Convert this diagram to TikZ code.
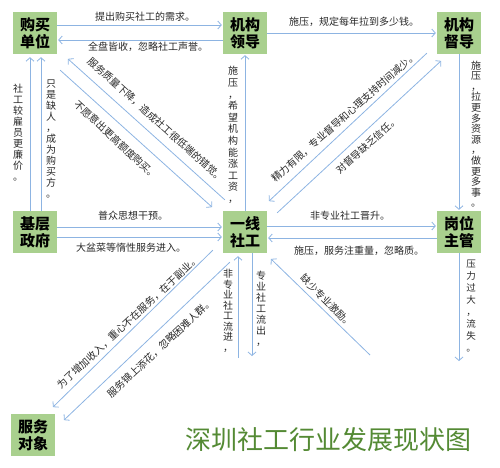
\documentclass[tikz,border=0pt]{standalone}
\usepackage{fontspec}
\setmainfont{Noto Sans CJK SC}
\usetikzlibrary{arrows.meta}
\definecolor{boxg}{RGB}{169,208,142}
\definecolor{lineb}{RGB}{141,180,226}
\definecolor{txt}{RGB}{40,40,40}
\definecolor{titleg}{RGB}{84,138,52}
\begin{document}
\begin{tikzpicture}[x=1pt,y=-1pt,
  box/.style={fill=boxg, minimum width=44pt, minimum height=42pt, inner sep=0pt, align=center,
    font=\fontsize{15}{17}\selectfont\bfseries},
  arr/.style={draw=lineb, line width=0.8pt, -{Straight Barb[length=3.5pt,width=8pt]}, shorten >=1pt},
  lab/.style={font=\fontsize{10}{12}\selectfont, text=txt, inner sep=0pt},
  vlab/.style={text=txt, inner sep=0pt, align=center, font=\fontsize{10}{11}\selectfont}]
\useasboundingbox (0,0) rectangle (500,467);
% nodes
\node[box] (buy) at (35,33) {购买\\单位};
\node[box] (lead) at (245,33) {机构\\领导};
\node[box] (sup) at (459,33) {机构\\督导};
\node[box] (gov) at (35,232) {基层\\政府};
\node[box] (sw) at (245,232) {一线\\社工};
\node[box] (mgr) at (459,232) {岗位\\主管};
\node[box] (cli) at (33,435) {服务\\对象};
\node[font=\fontsize{26}{28}\selectfont, text=titleg, inner sep=0pt] (title) at (328,440) {深圳社工行业发展现状图};
\coordinate (mgrend) at (459,362);
\coordinate (inflow) at (238,358);
\coordinate (outflow) at (252,357);
\coordinate (incent) at (370,355);
% horizontal
\draw[arr] ([yshift=8pt]buy.east) -- ([yshift=8pt]lead.west);
\draw[arr] ([yshift=-7pt]lead.west) -- ([yshift=-7pt]buy.east);
\draw[arr] (lead.east) -- (sup.west);
\draw[arr] ([yshift=5pt]gov.east) -- ([yshift=5pt]sw.west);
\draw[arr] ([yshift=-5pt]gov.east) -- ([yshift=-5pt]sw.west);
\draw[arr] ([yshift=6pt]sw.east) -- ([yshift=6pt]mgr.west);
\draw[arr] ([yshift=-6pt]mgr.west) -- ([yshift=-6pt]sw.east);
% vertical
\draw[arr] (sup.south) -- (mgr.north);
\draw[arr] (mgr.south) -- (mgrend);
\draw[arr] (sw.north) -- (lead.south);
\draw[arr, shorten >=3pt] ([xshift=-5pt]gov.north) -- ([xshift=-5pt]buy.south);
\draw[arr, shorten >=3pt] ([xshift=6pt]gov.north) -- ([xshift=6pt]buy.south);
\draw[arr, shorten >=3pt] (inflow) -- ([xshift=-7pt]sw.south);
\draw[arr] ([xshift=7pt]sw.south) -- (outflow);
% diagonals
\draw[arr] ([shift={(2,-11)}]sw.north west) -- ([shift={(10,4)}]buy.south east);
\draw[arr] ([shift={(3,16)}]buy.south east) -- ([shift={(-10,-3)}]sw.north west);
\draw[arr] ([shift={(-10,-1)}]sup.south west) -- ([shift={(1,-9)}]sw.north east);
\draw[arr] ([shift={(10,2)}]sw.north east) -- ([shift={(5,6)}]sup.south west);
\draw[arr] ([shift={(-10,-3)}]sw.south west) -- ([shift={(-3,-6)}]cli.north east);
\draw[arr] ([shift={(7,9)}]sw.south west) -- ([shift={(8,7)}]cli.north east);
\draw[arr] (incent) -- ([shift={(3,5)}]sw.south east);
% horizontal labels
\node[lab] (l1) at (145,17) {提出购买社工的需求。};
\node[lab] (l2) at (148,47) {全盘皆收，忽略社工声誉。};
\node[lab] (l3) at (354,22) {施压，规定每年拉到多少钱。};
\node[lab] (l4) at (350,216) {非专业社工晋升。};
\node[lab] (l5) at (359,251) {施压，服务注重量，忽略质。};
\node[lab] (l6) at (133,216) {普众思想干预。};
\node[lab] (l7) at (131,248) {大盆菜等惰性服务进入。};
% vertical labels
\node[vlab, font=\fontsize{10}{10.6}\selectfont] (v1) at (476,134) {施\\压\\，\\拉\\更\\多\\资\\源\\，\\做\\更\\多\\事\\。};
\node[vlab, font=\fontsize{9.5}{12}\selectfont] (v2) at (471,306) {压\\力\\过\\大\\，\\流\\失\\。};
\node[vlab, font=\fontsize{10}{11.6}\selectfont] (v3) at (233,135) {施\\压\\，\\希\\望\\机\\构\\能\\涨\\工\\资\\，};
\node[vlab] (v4) at (18,133) {社\\工\\较\\雇\\员\\更\\廉\\价\\。};
\node[vlab] (v5) at (51,139) {只\\是\\缺\\人\\，\\成\\为\\购\\买\\方\\。};
\node[vlab, font=\fontsize{10}{10.5}\selectfont] (v6) at (228,311) {非\\专\\业\\社\\工\\流\\进\\，};
\node[vlab] (v7) at (261,309) {专\\业\\社\\工\\流\\出\\，};
% diagonal labels
\node[lab, rotate=-42] (d1) at (156,120) {服务质量下降，造成社工很低端的错觉。};
\node[lab, rotate=-43] (d2) at (116,140) {不愿意出更高额度购买。};
\node[lab, rotate=41.5] (d3) at (344,117) {精力有限，专业督导和心理支持时间减少。};
\node[lab, rotate=42] (d4) at (367,145) {对督导缺乏信任。};
\node[lab, rotate=43] (d5) at (128,322) {为了增加收入，重心不在服务，在于副业。};
\node[lab, rotate=43] (d6) at (160,348) {服务锦上添花，忽略困难人群。};
\node[lab, rotate=-45] (d7) at (327,301) {缺少专业激励。};
\end{tikzpicture}
\end{document}
